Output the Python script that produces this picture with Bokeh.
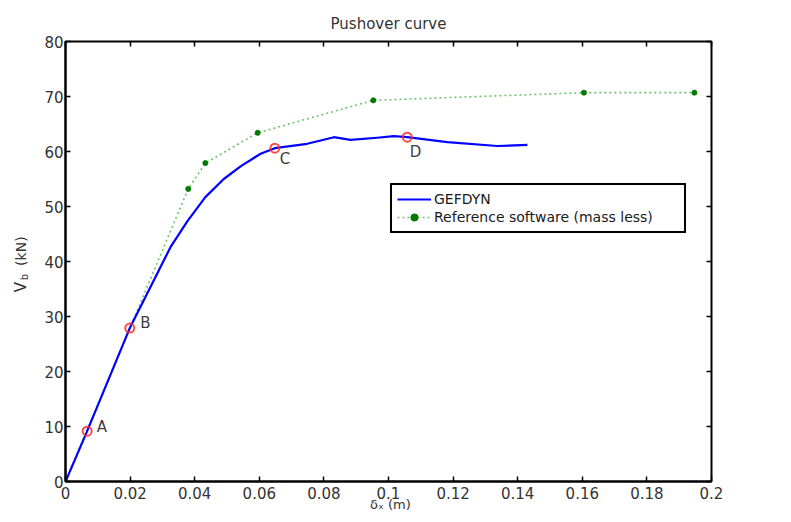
import math
from bokeh.plotting import figure
from bokeh.models import (Range1d, FixedTicker, LinearAxis, Label, Legend,
                          LegendItem, CustomJSTickFormatter)
from bokeh.embed import file_html
from bokeh.resources import INLINE

# ---- data ----
gef_x = [0, 0.0067, 0.0199, 0.0242, 0.0325, 0.0377, 0.0433, 0.0490, 0.0542,
         0.0604, 0.0648, 0.0748, 0.0790, 0.0831, 0.0882, 0.0965, 0.1016,
         0.1058, 0.1182, 0.1337, 0.1430]
gef_y = [0, 9.15, 27.9, 32.9, 42.6, 47.3, 51.7, 55.0, 57.3,
         59.6, 60.6, 61.4, 62.0, 62.6, 62.1, 62.5, 62.8,
         62.6, 61.7, 61.0, 61.2]

ref_x = [0, 0.0380, 0.0433, 0.0595, 0.0953, 0.1605, 0.1947]
ref_y = [0, 53.2, 57.9, 63.4, 69.3, 70.7, 70.7]

pt_names = ["A", "B", "C", "D"]
pt_x = [0.0067, 0.0199, 0.0648, 0.1058]
pt_y = [9.15, 27.9, 60.6, 62.6]

x_ticks = [0, 0.02, 0.04, 0.06, 0.08, 0.1, 0.12, 0.14, 0.16, 0.18, 0.2]
x_tick_labels = ["0", "0.02", "0.04", "0.06", "0.08", "0.1", "0.12", "0.14",
                 "0.16", "0.18", "0.2"]
y_ticks = [0, 10, 20, 30, 40, 50, 60, 70, 80]
y_tick_labels = ["0", "10", "20", "30", "40", "50", "60", "70", "80"]

series_names = ["GEFDYN", "Reference software (mass less)"]
title_text = "Pushover curve"
x_label = "δₓ (m)"

FONT = "DejaVu Sans"
TXT = "#333333"

p = figure(width=783, height=514, output_backend="svg", toolbar_location=None,
           x_range=Range1d(0, 0.2), y_range=Range1d(0, 80),
           min_border_left=65, min_border_right=72, min_border_top=41,
           min_border_bottom=33, title=title_text)
p.background_fill_color = "white"
p.border_fill_color = "white"
p.outline_line_color = "black"
p.outline_line_alpha = 1
p.outline_line_width = 2
p.xgrid.visible = False
p.ygrid.visible = False

p.title.align = "center"
p.title.text_font = FONT
p.title.text_font_size = "15px"
p.title.text_font_style = "normal"
p.title.text_color = TXT
p.title.standoff = 18

def style_axis(ax):
    ax.axis_line_color = "black"
    ax.axis_line_width = 2
    ax.major_tick_in = 5
    ax.major_tick_out = 0
    ax.major_tick_line_color = "black"
    ax.major_tick_line_width = 1.5
    ax.minor_tick_line_color = None
    ax.major_label_text_font = FONT
    ax.major_label_text_font_size = "15px"
    ax.major_label_text_color = TXT

xa = p.xaxis[0]
xa.ticker = FixedTicker(ticks=x_ticks)
xa.major_label_overrides = {t: l for t, l in zip(x_ticks, x_tick_labels)}
style_axis(xa)
xa.major_label_standoff = 5

ya = p.yaxis[0]
ya.ticker = FixedTicker(ticks=y_ticks)
ya.major_label_overrides = {t: l for t, l in zip(y_ticks, y_tick_labels)}
style_axis(ya)
ya.major_label_standoff = 2

blank = "return ''"
top = LinearAxis(ticker=FixedTicker(ticks=x_ticks),
                 formatter=CustomJSTickFormatter(code=blank))
style_axis(top)
top.axis_line_color = None
top.major_label_standoff = 0
top.major_label_text_font_size = "1px"
p.add_layout(top, "above")

right = LinearAxis(ticker=FixedTicker(ticks=y_ticks),
                   formatter=CustomJSTickFormatter(code=blank))
style_axis(right)
right.axis_line_color = None
right.major_label_standoff = 0
right.major_label_text_font_size = "1px"
p.add_layout(right, "right")

# ---- series ----
r_ref_line = p.line(ref_x, ref_y, line_color="#6cc46c", line_width=1.6,
                    line_dash="2 3")
r_ref_pts = p.scatter(ref_x, ref_y, marker="circle", size=5,
                      fill_color="#007a00", line_color="#007a00")
r_gef = p.line(gef_x, gef_y, line_color="#0000ff", line_width=2.2,
               line_join="round")
p.scatter(pt_x, pt_y, marker="circle", size=9, fill_color=None,
          line_color="#ff2a2a", line_width=2, line_alpha=0.85)
p.text(x=pt_x, y=pt_y, text=pt_names,
       x_offset=[9.5, 10.5, 5, 2.5], y_offset=[-4, -5, 10.5, 15],
       text_align="left", text_baseline="middle",
       text_font_size="15px", text_color="#404040",
       text_font={"value": FONT})

legend = Legend(items=[LegendItem(label=series_names[0], renderers=[r_gef]),
                       LegendItem(label=series_names[1],
                                  renderers=[r_ref_line, r_ref_pts])],
                location=(325, 248))
legend.border_line_color = "black"
legend.border_line_alpha = 1
legend.border_line_width = 2
legend.background_fill_color = "white"
legend.background_fill_alpha = 1
legend.padding = 5
legend.spacing = 0
legend.margin = 0
legend.glyph_width = 34
legend.glyph_height = 18
legend.label_height = 18
legend.label_width = 245
legend.label_standoff = 3
legend.label_text_font = FONT
legend.label_text_font_size = "14px"
legend.label_text_color = "#1a1a1a"
legend.label_text_baseline = "middle"
p.add_layout(legend)

# ---- axis titles as free labels (data units) held in side panels with
#      spare room, so that they are drawn outside the plot frame ----
lab_style = dict(x_units="data", y_units="data", text_font=FONT,
                 text_color=TXT)
rot = dict(angle=math.pi / 2, text_align="left", text_baseline="middle")
p.add_layout(Label(x=-0.0139, y=34.4, text="V", text_font_size="15px",
                   **rot, **lab_style), "left")
p.add_layout(Label(x=-0.0127, y=36.6, text="b", text_font_size="10px",
                   **rot, **lab_style), "right")
p.add_layout(Label(x=-0.0139, y=39.2, text="(kN)", text_font_size="14px",
                   **rot, **lab_style), "right")
p.add_layout(Label(x=0.1006, y=-4.15, text=x_label, text_font_size="13px",
                   text_align="center", text_baseline="middle",
                   **lab_style), "right")

open("out.html", "w").write(file_html(p, INLINE))
